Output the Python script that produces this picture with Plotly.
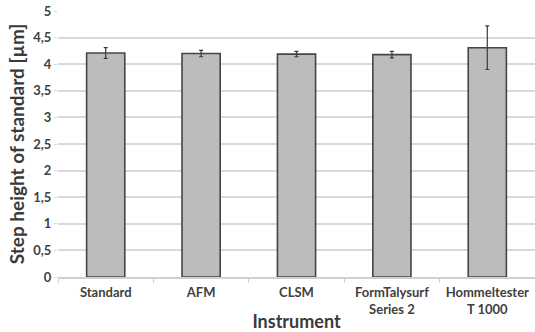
import plotly.graph_objects as go

instruments = ["Standard", "AFM", "CLSM", "FormTalysurf<br>Series 2", "Hommeltester<br>T 1000"]
step_height = [4.21, 4.20, 4.19, 4.18, 4.31]
std_dev = [0.10, 0.06, 0.05, 0.06, 0.41]

y_ticks = [0, 0.5, 1, 1.5, 2, 2.5, 3, 3.5, 4, 4.5, 5]
y_tick_text = ["0", "0,5", "1", "1,5", "2", "2,5", "3", "3,5", "4", "4,5", "5"]

fig = go.Figure(
    go.Bar(
        x=instruments,
        y=step_height,
        width=0.40,
        marker=dict(color="#bcbcbc", line=dict(color="#454545", width=1.6)),
        error_y=dict(type="data", array=std_dev, visible=True,
                     color="#3a3a3a", thickness=1.2, width=2),
    )
)

fig.update_layout(
    width=535, height=332,
    margin=dict(l=58, r=0, t=11, b=55),
    plot_bgcolor="white", paper_bgcolor="white",
    showlegend=False,
    font=dict(family="Lato", color="#404040"),
)

fig.update_xaxes(
    tickfont=dict(size=13, color="#404040", weight="bold"),
    ticks="outside", tickson="boundaries", ticklen=4, tickcolor="#d0d0d0",
    ticklabelstandoff=3,
    showline=True, linecolor="#d0d0d0", linewidth=1.5,
    title=dict(text="Instrument", font=dict(size=18, color="#3a3a3a", weight="bold"), standoff=0),
)
fig.update_yaxes(
    range=[0, 5], tickvals=y_ticks, ticktext=y_tick_text,
    tickfont=dict(size=13, color="#404040", weight="bold"),
    showgrid=True, gridcolor="#d9d9d9", gridwidth=1.5,
    zeroline=False, ticks="outside", ticklen=3, tickcolor="#d9d9d9",
    title=dict(text="Step height of standard [µm]", font=dict(size=19, color="#3a3a3a", weight="bold"), standoff=3),
)

fig.write_html("out.html")
